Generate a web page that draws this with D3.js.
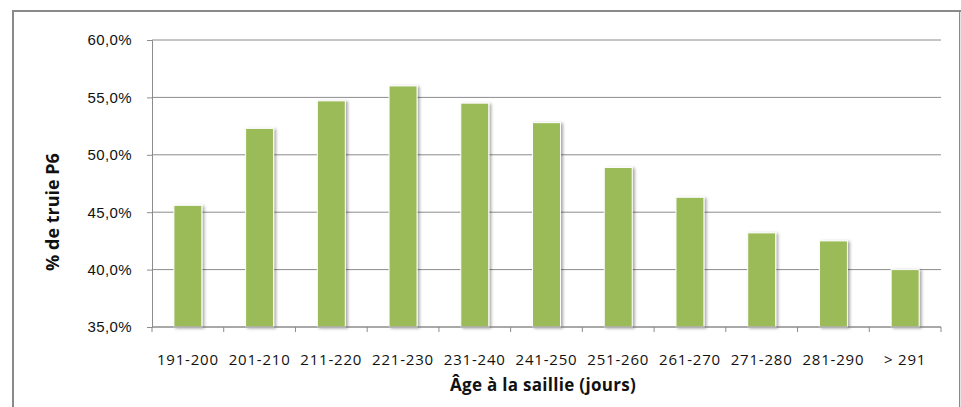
<!DOCTYPE html>
<html>
<head>
<meta charset="utf-8">
<script src="https://cdn.jsdelivr.net/npm/d3@7"></script>
<style>
  body { margin: 0; background: #fff; }
  svg { display: block; font-family: "Open Sans", "DejaVu Sans", sans-serif; }
</style>
</head>
<body>
<svg id="chart"></svg>
<script>
const categories = ["191-200", "201-210", "211-220", "221-230", "231-240", "241-250",
                    "251-260", "261-270", "271-280", "281-290", "> 291"];
const values = [45.6, 52.3, 54.7, 56.0, 54.5, 52.8, 48.9, 46.3, 43.2, 42.5, 40.0];
const yTicks = [35, 40, 45, 50, 55, 60];

const width = 961, height = 407;
const margin = {top: 40, right: 20, bottom: 80, left: 152};
const plotW = 941 - margin.left;
const plotH = 327 - margin.top;

const svg = d3.select("#chart").attr("width", width).attr("height", height);

// shadow for the bars
const defs = svg.append("defs");
const f = defs.append("filter").attr("id", "shadow").attr("x", "-30%").attr("y", "-10%")
  .attr("width", "170%").attr("height", "130%");
f.append("feDropShadow").attr("dx", 2).attr("dy", 1).attr("stdDeviation", 1.5)
  .attr("flood-color", "#000").attr("flood-opacity", 0.35);

// outer frame
svg.append("rect").attr("x", 13).attr("y", 11).attr("width", 947).attr("height", 420)
  .attr("fill", "none").attr("stroke", "#8a8a8a").attr("stroke-width", 2);
svg.append("line").attr("x1", 960.5).attr("x2", 960.5).attr("y1", 12).attr("y2", 407)
  .attr("stroke", "#e4e4e4").attr("stroke-width", 1);

const g = svg.append("g").attr("transform", `translate(${margin.left},${margin.top})`);

const x = d3.scaleBand().domain(categories).range([0, plotW]).paddingInner(0.61).paddingOuter(0.305);
const y = d3.scaleLinear().domain([35, 60]).range([plotH, 0]);

// gridlines
g.append("g").selectAll("line").data(yTicks).join("line")
  .attr("x1", 0).attr("x2", plotW)
  .attr("y1", d => y(d)).attr("y2", d => y(d))
  .attr("stroke", "#8c8c8c").attr("stroke-width", 1);

// y axis
const yAxis = g.append("g")
  .call(d3.axisLeft(y).tickValues(yTicks).tickSize(5).tickPadding(15)
    .tickFormat(d => d3.format(".1f")(d).replace(".", ",") + "%"));
yAxis.select(".domain").attr("stroke", "#8c8c8c");
yAxis.selectAll(".tick line").attr("stroke", "#8c8c8c");
yAxis.selectAll("text").attr("font-size", 15).attr("fill", "#111").attr("letter-spacing", 0.4);

// bars
g.append("g").selectAll("rect").data(values).join("rect")
  .attr("x", (d, i) => x(categories[i]))
  .attr("y", d => y(d))
  .attr("width", x.bandwidth())
  .attr("height", d => y(35) - y(d))
  .attr("fill", "#9bbb59")
  .attr("stroke", "#ffffff").attr("stroke-width", 1)
  .attr("filter", "url(#shadow)");

// x axis
const step = x.step();
const xAxis = g.append("g").attr("transform", `translate(0,${plotH})`);
xAxis.append("line").attr("x1", 0).attr("x2", plotW).attr("stroke", "#8c8c8c");
xAxis.selectAll(".tk").data(d3.range(categories.length + 1)).join("line")
  .attr("x1", i => i * step).attr("x2", i => i * step)
  .attr("y1", 0).attr("y2", 5).attr("stroke", "#8c8c8c");
xAxis.selectAll(".lbl").data(categories).join("text")
  .attr("x", d => x(d) + x.bandwidth() / 2)
  .attr("y", 38)
  .attr("text-anchor", "middle")
  .attr("font-size", 15).attr("fill", "#111")
  .attr("letter-spacing", 0.8)
  .text(d => d);

// axis titles
svg.append("text").attr("x", 543).attr("y", 391).attr("text-anchor", "middle")
  .attr("font-size", 17).attr("font-weight", "bold").attr("fill", "#111")
  .attr("letter-spacing", 0.3)
  .text("Âge à la saillie (jours)");
svg.append("text").attr("transform", "translate(59,212) rotate(-90)")
  .attr("text-anchor", "middle")
  .attr("font-size", 18).attr("font-weight", "bold").attr("fill", "#111")
  .text("% de truie P6");
</script>
</body>
</html>
